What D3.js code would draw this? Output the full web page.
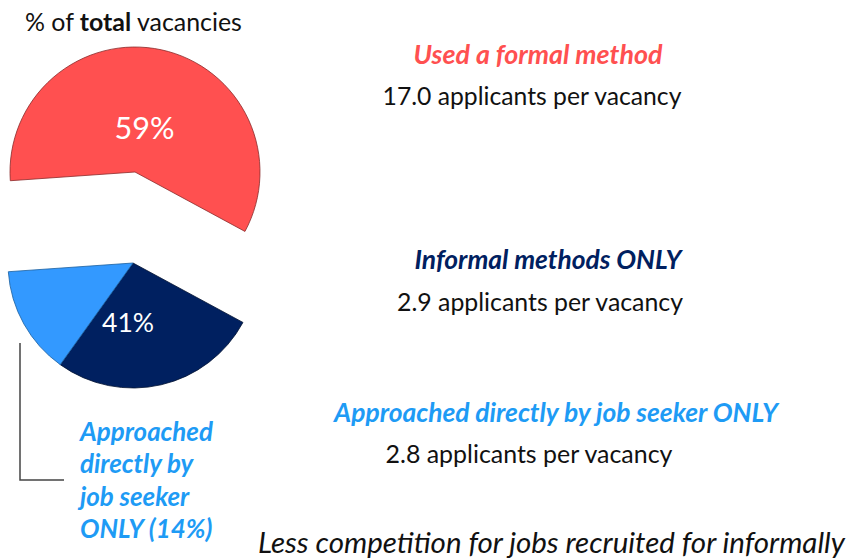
<!DOCTYPE html>
<html>
<head>
<meta charset="utf-8">
<script src="https://cdn.jsdelivr.net/npm/d3@7"></script>
<style>
  html, body { margin: 0; padding: 0; background: #fff; }
  svg { display: block; font-family: Lato, "Open Sans", sans-serif; }
</style>
</head>
<body>
<svg id="chart" width="850" height="559"></svg>
<script>
// ---- data ----
const categories = ["Used a formal method", "Informal methods ONLY (other)", "Approached directly by job seeker ONLY"];
const shares = [59, 27, 14];              // % of total vacancies
const groupLabels = ["59%", "41%"];       // formal vs. informal total
const groupTitles = ["Used a formal method", "Informal methods ONLY", "Approached directly by job seeker ONLY"];
const applicantsPerVacancy = [17.0, 2.9, 2.8];
const sideLabelLines = ["Approached", "directly by", "job seeker", "ONLY (14%)"];
const titleParts = ["% of ", "total", " vacancies"];
const footnote = "Less competition for jobs recruited for informally";

const colors = ["#FF5050", "#002060", "#3399FF"];
const strokes = ["#8a2b2b", "#001030", "#1a5fa0"];

const svg = d3.select("#chart");
const deg = Math.PI / 180;
const R = 125;

// scale a text's font size so it spans the wanted width
function fit(sel, width) {
  const fs = +sel.attr("font-size");
  const w = sel.node().getComputedTextLength();
  if (w > 0) sel.attr("font-size", (fs * width / w).toFixed(2));
  return sel;
}

const pie = d3.pie().sort(null).value(d => d)
  .startAngle(-94 * deg).endAngle(-94 * deg + 2 * Math.PI);
const arcs = pie(shares);
const arc = d3.arc().innerRadius(0).outerRadius(R);

// exploded centres: formal slice vs informal pair
const centres = [[135, 172], [133, 263], [133, 263]];

svg.append("g").selectAll("path").data(arcs).join("path")
  .attr("transform", (d, i) => `translate(${centres[i][0]},${centres[i][1]})`)
  .attr("d", arc)
  .attr("fill", (d, i) => colors[i])
  .attr("stroke", (d, i) => strokes[i])
  .attr("stroke-width", 0.8)
  .attr("stroke-linejoin", "round");

// group labels
const formalArc = arcs[0];
const informalArc = { startAngle: arcs[1].startAngle, endAngle: arcs[2].endAngle - 15 * deg };
const lab1 = d3.arc().innerRadius(0).outerRadius(R * 0.72).centroid(formalArc);
const lab2 = d3.arc().innerRadius(0).outerRadius(R * 0.96).centroid(informalArc);
fit(svg.append("text")
  .attr("x", centres[0][0] + lab1[0]).attr("y", centres[0][1] + lab1[1])
  .attr("dy", "0.36em").attr("text-anchor", "middle")
  .attr("fill", "#fff").attr("font-size", 31).text(groupLabels[0]), 60);
fit(svg.append("text")
  .attr("x", centres[1][0] + lab2[0]).attr("y", centres[1][1] + lab2[1])
  .attr("dy", "0.36em").attr("text-anchor", "middle")
  .attr("fill", "#fff").attr("font-size", 27).text(groupLabels[1]), 52);

// title
const t = svg.append("text").attr("x", 25).attr("y", 31).attr("font-size", 21).attr("fill", "#111");
t.append("tspan").text(titleParts[0]);
t.append("tspan").attr("font-weight", "bold").text(titleParts[1]);
t.append("tspan").text(titleParts[2]);
fit(t, 217);

// right-hand titles and values
const rightTitleY = [64, 269, 422];
const rightTitleX = [538, 548, 556];
const rightTitleW = [249, 267, 444];
const rightValY = [105, 311, 463];
const rightValX = [532, 540, 529];
const rightValW = [299, 286, 287];
const titleColors = ["#FF5050", "#002060", "#1E9BF5"];
groupTitles.forEach((s, i) => {
  fit(svg.append("text").attr("x", rightTitleX[i]).attr("y", rightTitleY[i])
    .attr("text-anchor", "middle").attr("font-size", 22)
    .attr("font-weight", "bold").attr("font-style", "italic")
    .attr("fill", titleColors[i]).text(s), rightTitleW[i]);
  fit(svg.append("text").attr("x", rightValX[i]).attr("y", rightValY[i])
    .attr("text-anchor", "middle").attr("font-size", 23)
    .attr("fill", "#111").text(d3.format(".1f")(applicantsPerVacancy[i]) + " applicants per vacancy"), rightValW[i]);
});

// bracket line
svg.append("path")
  .attr("d", d3.line()([[20, 343], [20, 480], [64, 480]]))
  .attr("fill", "none").attr("stroke", "#444").attr("stroke-width", 1.5);

// side label
const sideY = [441, 473, 506, 538];
const first = fit(svg.append("text").attr("x", 80).attr("y", sideY[0])
  .attr("font-size", 22).attr("font-weight", "bold").attr("font-style", "italic")
  .attr("fill", "#1E9BF5").text(sideLabelLines[0]), 133);
const sideFs = first.attr("font-size");
sideLabelLines.slice(1).forEach((s, i) => {
  svg.append("text").attr("x", 80).attr("y", sideY[i + 1])
    .attr("font-size", sideFs).attr("font-weight", "bold").attr("font-style", "italic")
    .attr("fill", "#1E9BF5").text(s);
});

// footnote
fit(svg.append("text").attr("x", 258).attr("y", 553)
  .attr("font-size", 26).attr("font-style", "italic").attr("fill", "#111")
  .text(footnote), 587);
</script>
</body>
</html>
